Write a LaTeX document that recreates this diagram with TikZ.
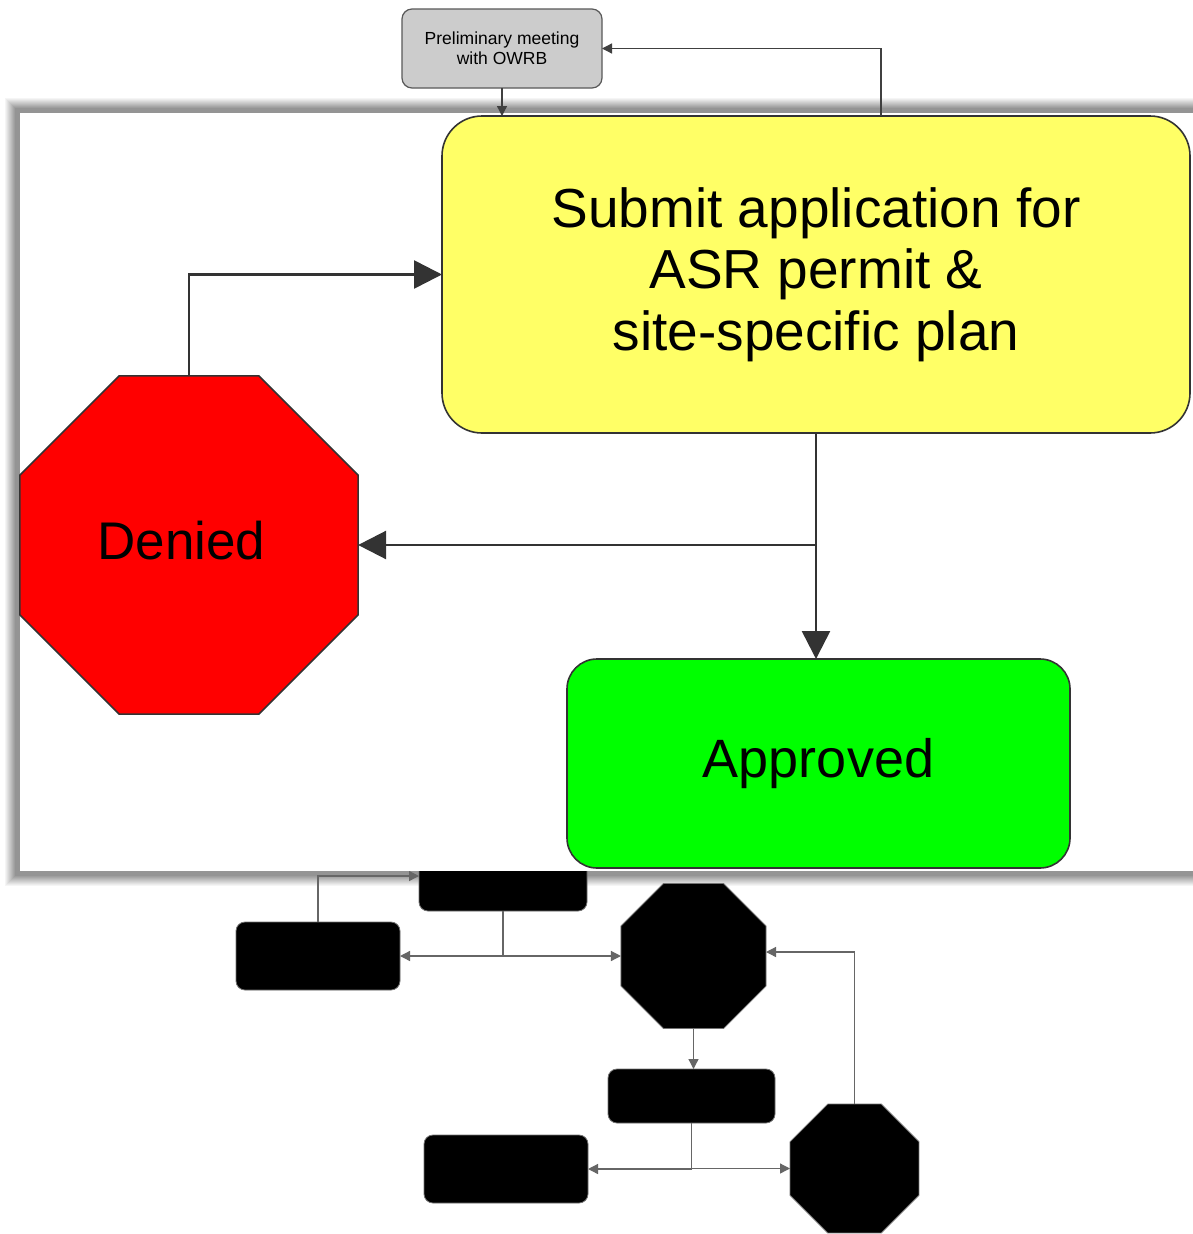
\documentclass[tikz,border=0pt]{standalone}
\usepackage{fontspec}
\setmainfont{Liberation Sans}
\usetikzlibrary{arrows.meta,shapes.geometric}
\definecolor{meetgray}{HTML}{CCCCCC}
\definecolor{submityellow}{HTML}{FFFF66}
\definecolor{stopred}{HTML}{FF0000}
\definecolor{okgreen}{HTML}{00FF00}
\definecolor{edge}{HTML}{333333}
\begin{document}
\begin{tikzpicture}[x=1pt,y=-1pt,
  rbox/.style={rectangle, rounded corners=#1, inner sep=0pt, outer sep=0pt, align=center, draw=edge, line width=1.6pt},
  blackbox/.style={rectangle, rounded corners=9pt, fill=black, draw=black!55, line width=0.8pt, inner sep=0pt, outer sep=0pt},
  oct/.style={regular polygon, regular polygon sides=8, inner sep=0pt, outer sep=0pt},
  bigflow/.style={draw=edge, line width=2.6pt, -{Triangle[length=28pt,width=28pt]}},
  smallflow/.style={draw=black!60, line width=1.3pt, -{Triangle[length=10pt,width=10pt]}},
  topflow/.style={draw=black!75, line width=1.3pt, -{Triangle[length=10pt,width=10pt]}}]
\useasboundingbox (0,0) rectangle (1192,1234);
\fill[white] (0,0) rectangle (1192,1234);

% soft shadow around the enlarged panel
\foreach \d in {15,14,...,1} {
  \pgfmathsetmacro\s{42*min(1,(16-\d)/11)}
  \fill[black!\s] (20-\d,113-\d) rectangle (1215,871+\d);
}

% lower flow (shapes shown solid black)
\node[blackbox, minimum width=168pt, minimum height=70pt] (A) at (503,876) {};
\node[blackbox, minimum width=164pt, minimum height=68pt] (B) at (318,956) {};
\node[oct, fill=black, draw=black!55, line width=0.8pt, minimum size=157pt] (C) at (693.5,956) {};
\node[blackbox, minimum width=167pt, minimum height=54pt] (D) at (691.5,1096) {};
\node[blackbox, minimum width=164pt, minimum height=68pt] (E) at (506,1169) {};
\node[oct, fill=black, draw=black!55, line width=0.8pt, minimum size=139.6pt] (F) at (854.5,1168.5) {};
\coordinate (Cin) at (766,952);

\draw[smallflow] (B.north) |- (A.west);
\draw[smallflow] (A.south) |- (B.east);
\draw[smallflow] (A.south) |- (C.west);
\draw[smallflow] (C.south) -- (C.south |- D.north);
\draw[smallflow] (D.south) |- (E.east);
\draw[smallflow] (D.south) |- (F.west);
\draw[smallflow] (F.north) |- (Cin);

% enlarged panel
\fill[white] (20,113) rectangle (1215,871);

% preliminary step above the panel
\node[rbox=10pt, fill=meetgray, draw=black!65, line width=1.2pt, minimum width=200pt, minimum height=79pt,
      font=\fontsize{17.5}{20}\selectfont] (meet) at (502,48.5) {Preliminary meeting\\with OWRB};

% panel contents
\node[rbox=40pt, fill=submityellow, minimum width=748pt, minimum height=317pt,
      font=\fontsize{55}{61.5}\selectfont] (submit) at (816,274.5)
      {Submit application for\\ASR permit \&\\site-specific plan};
\node[oct, fill=stopred, draw=edge, line width=1.6pt, minimum size=366pt,
      font=\fontsize{53}{60}\selectfont] (denied) at (189,545) {\raisebox{10pt}{Denied}\hspace*{15pt}};
\node[rbox=30pt, fill=okgreen, minimum width=503pt, minimum height=209pt,
      font=\fontsize{54}{60}\selectfont] (approved) at (818.5,763.5) {\raisebox{-5pt}{Approved}};

\coordinate (retx) at (881,0);
\draw[topflow] (meet.south) -- (meet.south |- submit.north);
\draw[topflow] (submit.north -| retx) |- (meet.east);

\draw[bigflow] (denied.north) |- (submit.west);
\draw[bigflow] (submit.south) -- (submit.south |- approved.north);
\draw[bigflow] (submit.south) |- (denied.east);
\end{tikzpicture}
\end{document}
